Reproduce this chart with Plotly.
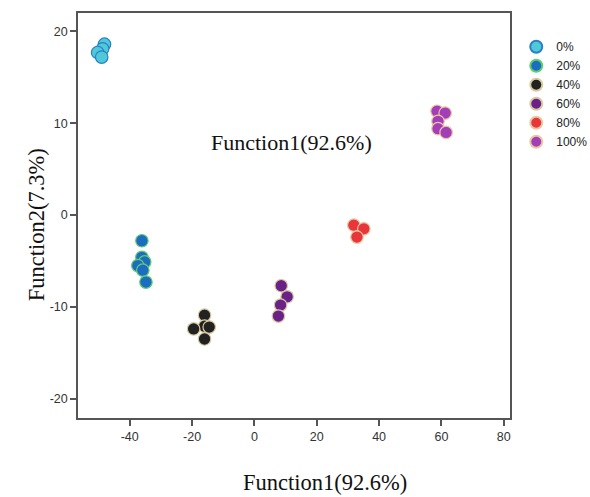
import plotly.graph_objects as go

groups = ["0%", "20%", "40%", "60%", "80%", "100%"]
x_0 = [-48.1, -48.7, -50.3, -49.0]
y_0 = [18.6, 18.1, 17.7, 17.2]
x_20 = [-36.1, -36.1, -35.2, -37.4, -35.8, -34.8]
y_20 = [-2.8, -4.6, -5.1, -5.5, -6.0, -7.3]
x_40 = [-16.0, -16.0, -19.5, -14.5, -16.0]
y_40 = [-10.9, -12.1, -12.4, -12.2, -13.5]
x_60 = [8.6, 10.5, 8.4, 7.7]
y_60 = [-7.7, -8.9, -9.8, -11.0]
x_80 = [31.9, 35.1, 32.9]
y_80 = [-1.1, -1.5, -2.4]
x_100 = [58.6, 61.2, 58.9, 58.9, 61.5]
y_100 = [11.3, 11.1, 10.2, 9.4, 9.0]

xs = [x_0, x_20, x_40, x_60, x_80, x_100]
ys = [y_0, y_20, y_40, y_60, y_80, y_100]
fills = ["#4fc8d8", "#1d6cc4", "#222222", "#6a2188", "#e8363c", "#a33db8"]
edges = ["#2a7fc8", "#5fcf6a", "#d8caa0", "#d8caa0", "#e8c8a0", "#e8c8a0"]

x_ticks = [-40, -20, 0, 20, 40, 60, 80]
y_ticks = [-20, -10, 0, 10, 20]

fig = go.Figure()
for g, x, y, f, e in zip(groups, xs, ys, fills, edges):
    fig.add_trace(go.Scatter(
        x=x, y=y, mode="markers", name=g,
        marker=dict(size=12.5, color=f, line=dict(color=e, width=1.2)),
    ))

serif = "Liberation Serif, Times New Roman, serif"
title_font = dict(family=serif, size=22.5, color="#111")
fig.add_annotation(x=11.8, y=7.85, xref="x", yref="y", text="Function1(92.6%)",
                   showarrow=False, font=dict(family=serif, size=22, color="#111"))
# axis titles (placed as in the reference)
fig.add_annotation(x=0.572, y=-0.16, xref="paper", yref="paper", text="Function1(92.6%)",
                   showarrow=False, xanchor="center", yanchor="middle", font=title_font)
fig.add_annotation(x=-0.097, y=0.476, xref="paper", yref="paper", text="Function2(7.3%)",
                   showarrow=False, xanchor="center", yanchor="middle", textangle=-90,
                   font=title_font)

axis_common = dict(
    showgrid=False, zeroline=False, showline=True, mirror=True, automargin=False,
    linecolor="#555", linewidth=1.5, ticks="outside", ticklen=6, tickwidth=1.5,
    tickcolor="#555",
    tickfont=dict(family="Liberation Sans, Arial, sans-serif", size=12.5, color="#333"),
)

fig.update_xaxes(range=[-56.6, 82.0], tickvals=x_ticks, ticktext=[str(v) for v in x_ticks],
                 **axis_common)
fig.update_yaxes(range=[-22.1, 22.0], tickvals=y_ticks, ticktext=[str(v) for v in y_ticks],
                 **axis_common)

fig.update_layout(
    width=590, height=497,
    margin=dict(l=78, r=80, t=13, b=79),
    plot_bgcolor="white", paper_bgcolor="white",
    legend=dict(xref="container", yref="container", x=0.875, y=0.935,
                xanchor="left", yanchor="top",
                font=dict(family="Liberation Sans, Arial, sans-serif", size=12, color="#222"),
                itemsizing="constant", bgcolor="rgba(0,0,0,0)", tracegroupgap=0,
                itemwidth=30),
)

post = ("document.body.style.margin='0px';"
        "document.body.style.overflow='hidden';"
        "var gd=document.getElementById('{plot_id}');"
        "Plotly.relayout(gd,{width:590,height:497});")

fig.write_html("out.html", post_script=post, config={"displayModeBar": False})
